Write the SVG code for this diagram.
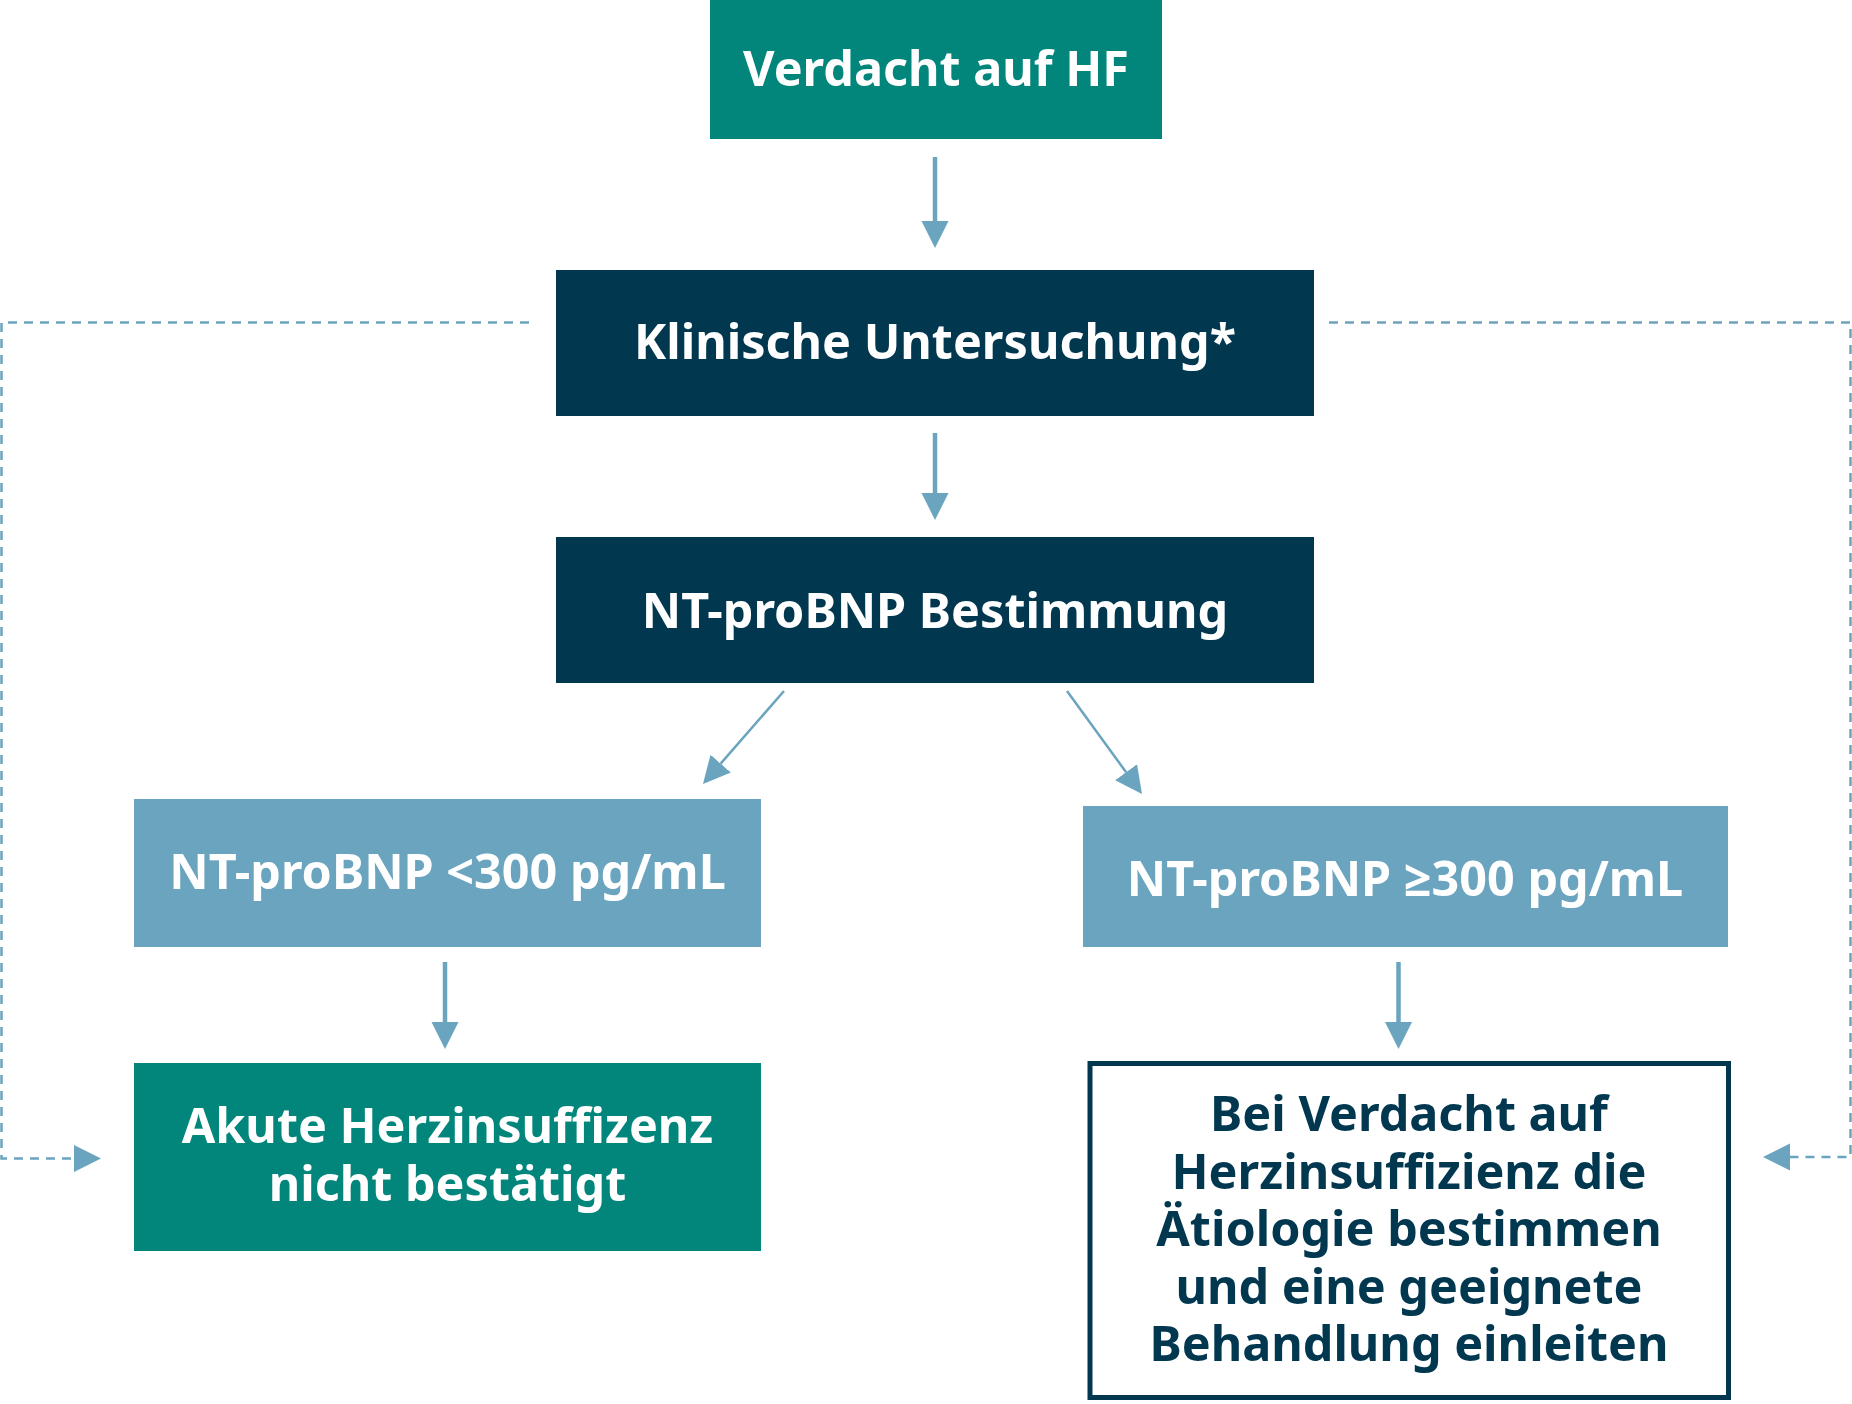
<svg xmlns="http://www.w3.org/2000/svg" width="1852" height="1404" viewBox="0 0 1852 1404">
<style>
.t{font-family:"Noto Sans","Open Sans","DejaVu Sans",sans-serif;font-weight:700;font-size:48.5px;text-anchor:middle}
.w{fill:#ffffff}
.d{fill:#023750}
.teal{fill:#02867B}
.navy{fill:#023750}
.light{fill:#6AA4BF}
.solid{stroke:#6AA4BF;fill:none;stroke-width:4.5}
.thin{stroke:#6AA4BF;fill:none;stroke-width:2.5}
.dash{stroke:#6AA4BF;fill:none;stroke-width:2.5;stroke-dasharray:9 7}
</style>
<defs>
<marker id="ah" markerUnits="userSpaceOnUse" markerWidth="28" markerHeight="28" refX="0" refY="13.5" orient="auto" viewBox="0 0 28 28">
<path d="M0,0 L27,13.5 L0,27 Z" fill="#6AA4BF"/>
</marker>
</defs>
<rect width="1852" height="1404" fill="#ffffff"/>
<g id="connectors">
<line class="solid" x1="935" y1="157" x2="935" y2="221" marker-end="url(#ah)"/>
<line class="solid" x1="935" y1="433" x2="935" y2="493" marker-end="url(#ah)"/>
<line class="thin" x1="784" y1="691" x2="720.7" y2="763.6" marker-end="url(#ah)"/>
<line class="thin" x1="1067" y1="691" x2="1126.1" y2="772.2" marker-end="url(#ah)"/>
<line class="solid" x1="445" y1="962" x2="445" y2="1022" marker-end="url(#ah)"/>
<line class="solid" x1="1398.5" y1="962" x2="1398.5" y2="1022" marker-end="url(#ah)"/>
<path class="dash" d="M529,322.5 H1.5 V1158.5 H74" marker-end="url(#ah)"/>
<path class="dash" d="M1329,322.5 H1850.5 V1157 H1790" marker-end="url(#ah)"/>
</g>
<g id="n1">
<rect class="teal" x="710" y="0" width="452" height="139"/>
<text class="t w" x="936" y="86">Verdacht auf HF</text>
</g>
<g id="n2">
<rect class="navy" x="556" y="270" width="758" height="146"/>
<text class="t w" x="935" y="359">Klinische Untersuchung*</text>
</g>
<g id="n3">
<rect class="navy" x="556" y="537" width="758" height="146"/>
<text class="t w" x="935" y="628">NT-proBNP Bestimmung</text>
</g>
<g id="n4">
<rect class="light" x="134" y="799" width="627" height="148"/>
<text class="t w" x="447.5" y="889">NT-proBNP &lt;300 pg/mL</text>
</g>
<g id="n5">
<rect class="light" x="1083" y="806" width="645" height="141"/>
<text class="t w" x="1405" y="896">NT-proBNP ≥300 pg/mL</text>
</g>
<g id="n6">
<rect class="teal" x="134" y="1063" width="627" height="188"/>
<text class="t w" x="447.5" y="1143"><tspan x="447.5" y="1143">Akute Herzinsuffizenz</tspan><tspan x="447.5" y="1201">nicht bestätigt</tspan></text>
</g>
<g id="n7">
<rect x="1090" y="1063.5" width="638.5" height="334" fill="#ffffff" stroke="#023750" stroke-width="5"/>
<text class="t d" x="1409" y="1131"><tspan x="1409" y="1131">Bei Verdacht auf</tspan><tspan x="1409" y="1188.5">Herzinsuffizienz die</tspan><tspan x="1409" y="1246">Ätiologie bestimmen</tspan><tspan x="1409" y="1303.5">und eine geeignete</tspan><tspan x="1409" y="1361">Behandlung einleiten</tspan></text>
</g>
</svg>
